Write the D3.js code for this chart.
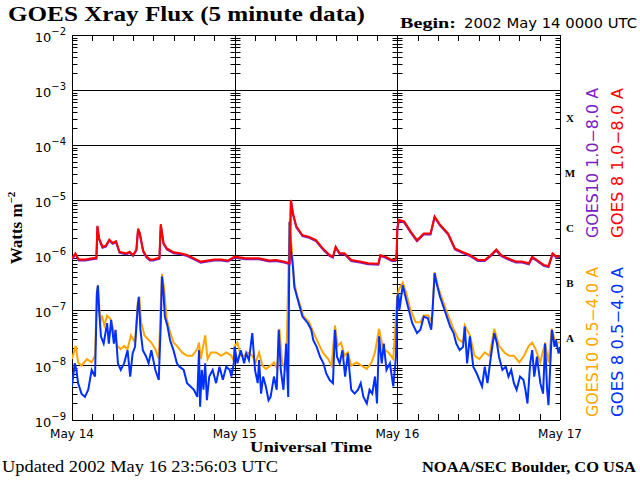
<!DOCTYPE html>
<html><head><meta charset="utf-8">
<script src="https://cdn.jsdelivr.net/npm/d3@7"></script>
<style>body{margin:0;background:#fff}svg{display:block}</style>
</head><body><svg id="c" width="640" height="480"></svg>
<script>
// hours since 2002 May 14 00:00 UTC, log10 flux (W m^-2)
const g8long = [[0,-6.06],[0.5,-5.97],[1,-6.08],[2,-6.08],[3,-6.06],[3.6,-6.05],[3.75,-5.47],[4,-5.7],[4.5,-5.85],[5,-5.83],[5.5,-5.72],[6,-5.78],[6.5,-5.75],[7,-5.94],[8,-5.97],[8.5,-5.94],[9,-6.0],[9.5,-5.9],[9.75,-5.52],[10,-5.6],[10.5,-5.92],[11,-6.03],[11.5,-6.08],[12,-6.08],[12.9,-6.05],[13.1,-5.44],[13.5,-5.78],[14,-5.88],[15,-5.95],[16,-5.97],[17,-6.0],[18,-6.06],[19,-6.12],[20,-6.1],[21,-6.08],[22,-6.08],[23,-6.1],[24,-6.03],
  [25.6,-6.06],[27.6,-6.06],[29.1,-6.10],[30.1,-6.09],[31.3,-6.12],[32.1,-6.15],[32.3,-5.0],[32.6,-5.24],[33.1,-5.48],[34.0,-5.64],[35.0,-5.67],[36.0,-5.73],[37.0,-5.88],[38.0,-6.0],[38.5,-6.03],[38.9,-5.85],[39.5,-5.97],[40.2,-5.97],[41.2,-6.09],[42.5,-6.12],[43.7,-6.15],[45.2,-6.16],[45.5,-6.0],[46.2,-6.03],[47.2,-6.09],[47.7,-6.09],[47.9,-5.97],
  [48.0,-5.52],[48.2,-5.36],[49.0,-5.39],[50.0,-5.58],[50.9,-5.73],[51.9,-5.61],[52.9,-5.61],[53.5,-5.30],[54.3,-5.45],[55.5,-5.61],[56.5,-5.88],[57.5,-5.94],[58.7,-6.0],[59.9,-6.09],[60.9,-6.09],[61.8,-6.0],[62.6,-5.9],[63.3,-6.0],[64.3,-6.06],[65.5,-6.12],[66.4,-6.12],[67.4,-6.15],[67.9,-6.03],[68.6,-6.09],[69.6,-6.18],[70.3,-6.2],[70.9,-5.97],[71.5,-6.03],[72,-6.02]];

const g8short = [[0,-8.39],[0.4,-7.97],[0.65,-8.09],[0.9,-8.33],[1.4,-8.52],[1.9,-8.58],[2.4,-8.45],[2.9,-8.09],[3.4,-8.21],[3.67,-6.70],[3.82,-6.55],[4.0,-7.0],[4.27,-7.48],[4.67,-7.61],[5.18,-7.24],[5.43,-7.61],[5.78,-7.18],[6.18,-7.61],[6.43,-7.36],[6.78,-7.97],[7.19,-8.09],[7.69,-7.97],[8.19,-7.73],[8.59,-8.21],[8.94,-7.79],[9.3,-7.67],[9.7,-6.94],[9.85,-6.76],[10.1,-7.36],[10.45,-7.73],[10.95,-7.85],[11.3,-7.97],[11.7,-7.73],[12.3,-8.09],[12.8,-8.27],[13.1,-7.24],[13.27,-6.39],[13.47,-6.64],[13.7,-7.12],[14.1,-7.30],[14.47,-7.55],[14.97,-7.73],[15.48,-7.97],[15.83,-8.03],[16.48,-8.09],[16.98,-8.33],[17.49,-8.39],[17.99,-8.45],[18.49,-8.58],[18.74,-7.73],[18.9,-8.76],[19.15,-8.09],[19.4,-8.45],[19.65,-7.97],[19.9,-8.64],[20.25,-8.21],[20.75,-8.09],[21.26,-8.33],[21.76,-8.03],[22.26,-8.27],[22.76,-8.03],[23.27,-8.09],[23.52,-8.21],[23.87,-7.97],
  [24,-7.67],[24.4,-7.97],[24.9,-7.73],[25.4,-7.97],[25.7,-7.79],[26.1,-7.91],[26.6,-7.42],[27.0,-8.09],[27.4,-8.33],[27.6,-7.91],[27.9,-8.52],[28.2,-8.21],[28.6,-8.39],[29.0,-8.64],[29.3,-8.58],[29.8,-8.21],[30.2,-8.45],[30.5,-7.36],[30.8,-8.09],[31.2,-8.45],[31.6,-7.61],[31.9,-8.58],[32.1,-5.4],[32.3,-5.91],[32.6,-6.21],[32.8,-6.58],[33.2,-6.76],[33.6,-6.94],[34.0,-7.12],[34.8,-7.24],[35.3,-7.36],[35.6,-7.55],[36.1,-7.67],[36.6,-7.85],[37.1,-7.97],[37.5,-8.15],[38.0,-8.27],[38.5,-8.33],[38.8,-7.36],[39.1,-7.85],[39.5,-7.97],[39.9,-7.73],[40.3,-8.21],[40.7,-7.79],[41.2,-8.45],[41.7,-8.52],[42.2,-8.45],[42.6,-8.33],[43.0,-8.58],[43.5,-8.70],[43.9,-8.45],[44.3,-8.52],[44.7,-8.21],[45.0,-8.70],[45.3,-7.48],[45.7,-7.97],[46.0,-7.61],[46.4,-8.09],[46.9,-7.97],[47.4,-8.39],[47.8,-7.85],[48.0,-6.76],
  [48.15,-6.70],[48.3,-7.0],[48.8,-6.55],[49.2,-6.76],[49.7,-7.0],[50.2,-7.24],[50.9,-7.42],[51.4,-7.36],[51.9,-7.12],[52.5,-7.15],[53.0,-7.36],[53.2,-7.0],[53.5,-6.33],[53.8,-6.52],[54.3,-6.76],[54.8,-6.94],[55.3,-7.12],[55.8,-7.30],[56.3,-7.42],[56.7,-7.61],[57.2,-7.73],[57.7,-7.67],[57.95,-7.30],[58.3,-7.97],[58.7,-7.48],[59.2,-8.03],[59.7,-8.15],[60.1,-8.27],[60.5,-8.39],[60.9,-8.03],[61.3,-8.33],[61.8,-7.85],[62.3,-7.42],[62.7,-7.61],[63.0,-7.85],[63.5,-8.09],[64.0,-8.03],[64.4,-8.21],[64.8,-8.09],[65.2,-8.33],[65.6,-8.45],[66.1,-8.21],[66.6,-8.27],[66.9,-8.45],[67.2,-8.70],[67.6,-7.97],[67.9,-7.73],[68.2,-8.21],[68.6,-7.85],[69.1,-8.33],[69.5,-8.52],[69.8,-7.61],[70.1,-8.45],[70.3,-8.73],[70.8,-7.36],[71.2,-7.67],[71.4,-7.55],[71.8,-7.79],[72,-7.67]];

const g10short = [[0,-7.91],[0.55,-7.67],[0.9,-7.97],[1.4,-8.03],[2.2,-7.91],[2.9,-7.97],[3.4,-7.85],[3.67,-6.70],[3.82,-6.58],[4.17,-7.24],[4.42,-7.12],[4.77,-7.30],[5.18,-7.12],[5.68,-7.18],[6.18,-7.42],[6.68,-7.67],[7.19,-7.73],[7.69,-7.67],[8.19,-7.73],[8.69,-7.48],[9.3,-7.61],[9.7,-6.88],[9.95,-6.82],[10.2,-7.24],[10.7,-7.48],[11.2,-7.55],[11.7,-7.61],[12.3,-7.73],[12.8,-7.91],[13.27,-6.36],[13.6,-6.64],[13.97,-7.18],[14.47,-7.42],[14.97,-7.61],[15.48,-7.67],[16.23,-7.79],[16.98,-7.85],[17.74,-7.85],[18.49,-7.73],[18.74,-7.61],[19.0,-7.91],[19.65,-7.48],[20.0,-7.91],[20.5,-7.79],[21.26,-7.79],[22.0,-7.85],[22.76,-7.79],[23.52,-7.85],[23.87,-7.94],
  [24,-7.67],[24.4,-7.61],[24.9,-7.85],[25.4,-7.85],[25.9,-7.79],[26.6,-7.85],[27.1,-7.97],[27.6,-7.79],[28.1,-8.03],[28.6,-8.09],[29.3,-8.03],[29.8,-7.97],[30.3,-8.09],[30.6,-7.36],[31.0,-7.97],[31.5,-8.09],[31.7,-7.55],[32.1,-5.4],[32.5,-6.03],[32.8,-6.52],[33.2,-6.76],[33.7,-6.94],[34.1,-7.12],[35.0,-7.24],[35.6,-7.42],[36.3,-7.61],[37.0,-7.79],[37.8,-7.91],[38.3,-8.03],[38.8,-7.30],[39.2,-7.67],[39.7,-7.61],[40.2,-7.85],[40.7,-7.79],[41.2,-8.03],[42.0,-7.97],[42.7,-8.03],[43.5,-8.09],[44.2,-7.97],[44.7,-7.79],[45.3,-7.36],[45.9,-7.73],[46.7,-7.79],[47.4,-7.91],[48.0,-6.76],
  [48.25,-6.64],[48.8,-6.52],[49.3,-6.70],[49.9,-7.0],[50.7,-7.24],[51.4,-7.24],[51.9,-7.12],[52.6,-7.12],[53.1,-7.24],[53.5,-6.33],[54.1,-6.64],[54.8,-6.88],[55.5,-7.12],[56.3,-7.36],[57.0,-7.55],[57.7,-7.61],[57.95,-7.30],[58.7,-7.48],[59.4,-7.85],[60.1,-7.91],[60.9,-7.79],[61.6,-7.85],[62.3,-7.36],[63.0,-7.67],[63.8,-7.79],[64.5,-7.85],[65.2,-7.85],[66.0,-7.97],[66.7,-7.85],[67.4,-7.67],[67.9,-7.61],[68.4,-7.73],[69.1,-7.97],[69.8,-7.61],[70.3,-7.97],[70.8,-7.36],[71.3,-7.61],[72,-7.61]];

const dayLabels = ["May 14", "May 15", "May 16", "May 17"];
const decades = [-2, -3, -4, -5, -6, -7, -8, -9];
const classes = [["X", -3.5], ["M", -4.5], ["C", -5.5], ["B", -6.5], ["A", -7.5]];

const svg = d3.select("#c");
const pL = 72, pR = 560, pT = 35, pB = 420;
const x = d3.scaleLinear().domain([0, 72]).range([pL, pR]);
const y = d3.scaleLinear().domain([-9, -2]).range([pB, pT]);
const serif = "'Liberation Serif','DejaVu Serif',serif";
const sans = "'DejaVu Sans','Liberation Sans',sans-serif";

// decade grid lines
svg.append("g").selectAll("line").data(decades).join("line")
  .attr("x1", pL).attr("x2", pR).attr("y1", d => Math.round(y(d)) + 0.5).attr("y2", d => Math.round(y(d)) + 0.5)
  .attr("stroke", "#000");

// minor log ticks on each day boundary (both sides)
const minors = [];
decades.slice(1).forEach(d => { for (let m = 2; m <= 9; m++) minors.push(d + Math.log10(m)); });
[0, 24, 48, 72].forEach((h, i) => {
  const g = svg.append("g");
  const xx = Math.round(x(h)) + 0.5;
  g.append("line").attr("x1", xx).attr("x2", xx).attr("y1", pT).attr("y2", pB).attr("stroke", "#000");
  const sides = i === 0 ? [1] : i === 3 ? [-1] : [-1, 1];
  sides.forEach(s => {
    g.selectAll(null).data(minors).join("line")
      .attr("x1", xx).attr("x2", xx + s * 5)
      .attr("y1", d => Math.round(y(d)) + 0.5).attr("y2", d => Math.round(y(d)) + 0.5)
      .attr("stroke", "#000");
  });
});

// hour ticks every 3 h at top and bottom
const hours = d3.range(3, 72, 3).filter(h => h % 24 !== 0);
svg.append("g").selectAll("line").data(hours).join("line")
  .attr("x1", d => Math.round(x(d)) + 0.5).attr("x2", d => Math.round(x(d)) + 0.5)
  .attr("y1", pB).attr("y2", pB - 6).attr("stroke", "#000");
svg.append("g").selectAll("line").data(hours).join("line")
  .attr("x1", d => Math.round(x(d)) + 0.5).attr("x2", d => Math.round(x(d)) + 0.5)
  .attr("y1", pT).attr("y2", pT + 6).attr("stroke", "#000");

// data lines
const line = d3.line().x(d => x(d[0])).y(d => y(d[1]));
svg.append("clipPath").attr("id", "pc").append("rect")
  .attr("x", pL).attr("y", pT).attr("width", pR - pL).attr("height", pB - pT);
const plot = svg.append("g").attr("clip-path", "url(#pc)");
plot.append("path").datum(g10short).attr("d", line).attr("transform", "translate(0,-1)").attr("fill", "none").attr("stroke", "#ffa500").attr("stroke-width", 2);
plot.append("path").datum(g8short).attr("d", line).attr("fill", "none").attr("stroke", "#0030ff").attr("stroke-width", 2);
plot.append("path").datum(g8long).attr("d", line).attr("transform", "translate(0,1)").attr("fill", "none").attr("stroke", "#7a20c0").attr("stroke-width", 2);
plot.append("path").datum(g8long).attr("d", line).attr("fill", "none").attr("stroke", "#ff0000").attr("stroke-width", 2);

// y tick labels 10^n
const yl = svg.append("g").attr("font-family", sans).attr("font-size", 13).attr("text-anchor", "end");
decades.forEach(d => {
  const t = yl.append("text").attr("x", 66).attr("y", y(d) + 7);
  t.append("tspan").text("10");
  t.append("tspan").attr("dy", -7).attr("font-size", 10).text("\u2212" + (-d));
});

svg.append("text").attr("transform", "translate(22,228) rotate(-90)").attr("text-anchor", "middle")
  .attr("font-family", serif).attr("font-weight", "bold").attr("font-size", 17)
  .html("Watts m<tspan dy='-7' font-size='11'>\u22122</tspan>");

// x labels
svg.append("g").selectAll("text").data(dayLabels).join("text")
  .attr("x", (d, i) => x(i * 24)).attr("y", 438).attr("text-anchor", "middle")
  .attr("font-family", sans).attr("font-size", 12).text(d => d);

function fitText(xp, yp, len, size, family, bold, str) {
  return svg.append("text").attr("x", xp).attr("y", yp).attr("textLength", len)
    .attr("lengthAdjust", "spacingAndGlyphs").attr("font-size", size)
    .attr("font-family", family).attr("font-weight", bold ? "bold" : "normal").text(str);
}
fitText(250, 452, 122, 14, serif, true, "Universal Time");
fitText(8, 21, 357, 21, serif, true, "GOES Xray Flux (5 minute data)");
fitText(400, 28, 56, 15, serif, true, "Begin:");
fitText(464, 28, 173, 14, sans, false, "2002 May 14 0000 UTC");
fitText(2, 472, 276, 16, serif, false, "Updated 2002 May 16 23:56:03 UTC");
fitText(422, 472, 214, 15, serif, true, "NOAA/SEC Boulder, CO USA");

// flare classes
svg.append("g").selectAll("text").data(classes).join("text")
  .attr("x", 570).attr("y", d => y(d[1]) + 4).attr("text-anchor", "middle")
  .attr("font-family", serif).attr("font-weight", "bold").attr("font-size", 11).text(d => d[0]);

// rotated legends
const legends = [
  ["GOES10 1.0\u22128.0 A", "#7a20c0", 598, 238],
  ["GOES 8 1.0\u22128.0 A", "#ff0000", 623, 238],
  ["GOES10 0.5\u22124.0 A", "#ffa500", 598, 417],
  ["GOES 8 0.5\u22124.0 A", "#0030ff", 623, 417]
];
svg.append("g").selectAll("text").data(legends).join("text")
  .attr("transform", d => `translate(${d[2]},${d[3]}) rotate(-90)`)
  .attr("textLength", 150).attr("lengthAdjust", "spacingAndGlyphs")
  .attr("fill", d => d[1]).attr("font-family", sans).attr("font-size", 15).text(d => d[0]);
</script></body></html>
